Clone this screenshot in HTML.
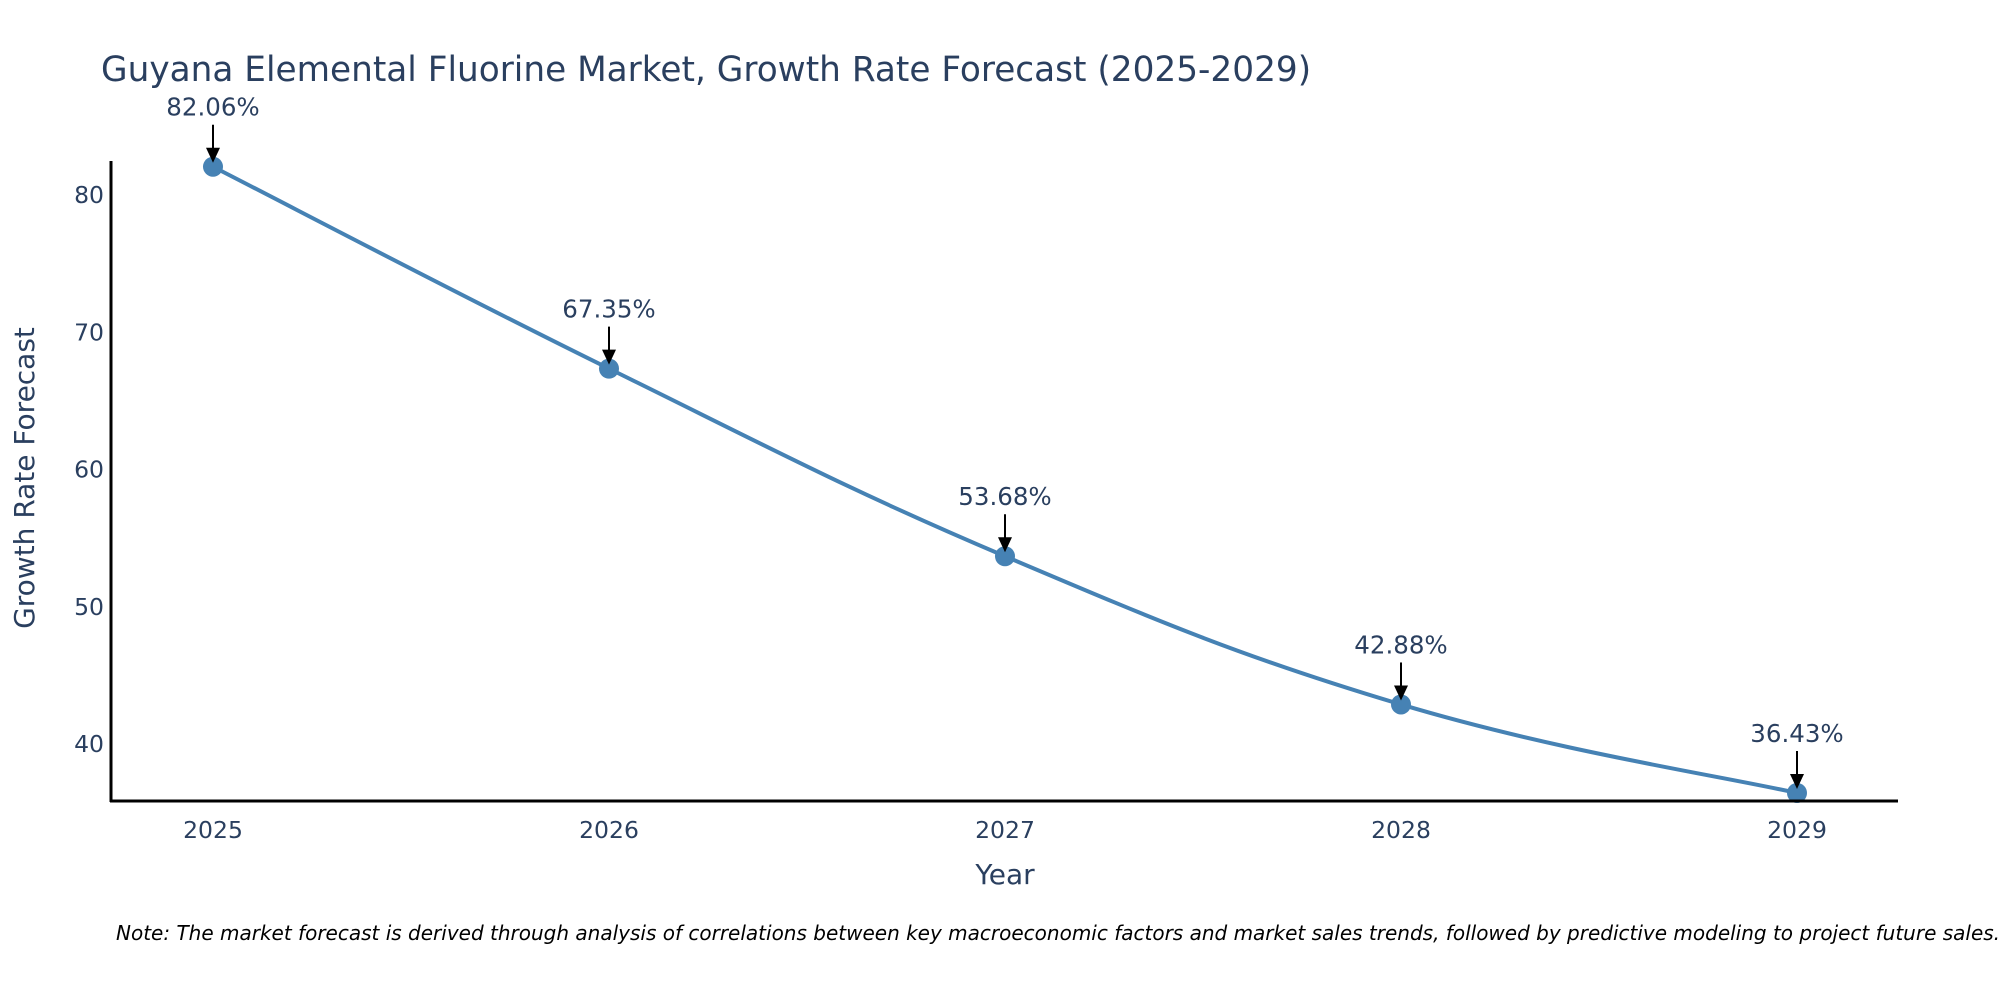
<!DOCTYPE html>
<html><head><meta charset="utf-8"><style>
html,body{margin:0;padding:0;background:#fff;}
svg{display:block;font-family:"DejaVu Sans","Liberation Sans",sans-serif;}
</style></head><body>
<svg id="chart" width="2000" height="1000" viewBox="0 0 2000 1000">
<text x="101" y="81" font-size="34.3" fill="#2a3f5f">Guyana Elemental Fluorine Market, Growth Rate Forecast (2025-2029)</text>
<g id="grid"></g>
<g id="series"></g>
<g id="ann"></g>
<line x1="111" y1="161" x2="111" y2="802" stroke="#000" stroke-width="3"/>
<line x1="110" y1="801" x2="1898" y2="801" stroke="#000" stroke-width="3"/>
<text x="1005" y="884" font-size="28" fill="#2a3f5f" text-anchor="middle">Year</text>
<text transform="translate(34,478) rotate(-90)" font-size="28" fill="#2a3f5f" text-anchor="middle">Growth Rate Forecast</text>
<text x="116" y="940" font-size="20" font-style="italic" fill="#000">Note: The market forecast is derived through analysis of correlations between key macroeconomic factors and market sales trends, followed by predictive modeling to project future sales.</text>
</svg>
<script>
const years = ["2025","2026","2027","2028","2029"];
const rates = [82.06, 67.35, 53.68, 42.88, 36.43];
const yTicks = [40, 50, 60, 70, 80];
const NS = "http://www.w3.org/2000/svg";
const xScale = i => 213 + i * 396;
const yScale = v => 195 + (80 - v) * 13.725;
function mk(tag, attrs, parent){const e=document.createElementNS(NS,tag);for(const k in attrs)e.setAttribute(k,attrs[k]);parent.appendChild(e);return e;}
const grid=document.getElementById('grid'), series=document.getElementById('series'), ann=document.getElementById('ann');
yTicks.forEach(t=>{
  const e=mk('text',{x:104,y:yScale(t)+8,'font-size':23.5,fill:'#2a3f5f','text-anchor':'end'},grid);
  
  
  e.textContent=t;
});
years.forEach((y,i)=>{
  const e=mk('text',{x:xScale(i),y:838,'font-size':23.5,fill:'#2a3f5f','text-anchor':'middle'},grid);
  
  
  e.textContent=y;
});
const pts=rates.map((v,i)=>[xScale(i),yScale(v)]);
let d=`M${pts[0][0]},${pts[0][1]}`;
for(let i=0;i<pts.length-1;i++){
  const p0=pts[Math.max(0,i-1)],p1=pts[i],p2=pts[i+1],p3=pts[Math.min(pts.length-1,i+2)];
  const s=0.2;
  const c1=[p1[0]+(p2[0]-p0[0])*s,p1[1]+(p2[1]-p0[1])*s];
  const c2=[p2[0]-(p3[0]-p1[0])*s,p2[1]-(p3[1]-p1[1])*s];
  d+=` C${c1[0]},${c1[1]} ${c2[0]},${c2[1]} ${p2[0]},${p2[1]}`;
}
const line=mk('path',{d:d,fill:'none',stroke:'#4682b4','stroke-width':4},series);


pts.forEach((p,i)=>{
  const c=mk('circle',{cx:p[0],cy:p[1],r:10,fill:'#4682b4'},series);
  
  
  const a=mk('line',{x1:p[0],y1:p[1]-42,x2:p[0],y2:p[1]-18,stroke:'#000','stroke-width':2},ann);
  
  
  const h=mk('polygon',{points:`${p[0]-7},${p[1]-19} ${p[0]+7},${p[1]-19} ${p[0]},${p[1]-4}`,fill:'#000'},ann);
  
  
  const t=mk('text',{x:p[0],y:p[1]-51,'font-size':24.5,fill:'#2a3f5f','text-anchor':'middle'},ann);
  
  
  t.textContent=rates[i].toFixed(2)+'%';
});
</script>
</body></html>
